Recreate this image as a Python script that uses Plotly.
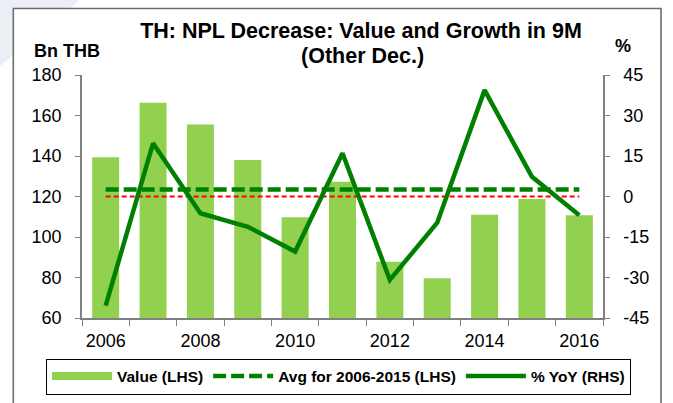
import plotly.graph_objects as go

# ---- data ----
years = [2006, 2007, 2008, 2009, 2010, 2011, 2012, 2013, 2014, 2015, 2016]
value_lhs = [139.4, 166.3, 155.6, 138.0, 109.7, 127.3, 87.8, 79.6, 111.0, 118.8, 110.7]
yoy_rhs = [-40.4, 19.7, -6.2, -11.2, -20.4, 16.0, -30.9, -9.7, 39.4, 7.3, -6.9]
avg_2006_2015 = 123.5
avg_line = [avg_2006_2015] * len(years)
zero_line = [0] * len(years)
year_ticks = [2006, 2008, 2010, 2012, 2014, 2016]
year_labels = [str(y) for y in year_ticks]
left_ticks = [60, 80, 100, 120, 140, 160, 180]
right_ticks = [-45, -30, -15, 0, 15, 30, 45]
right_labels = ["-45", "-30", "-15", "0", "15", "30", "45"]
title_line1 = "TH: NPL Decrease: Value and Growth in 9M"
title_line2 = "(Other Dec.)"

W, H = 673, 403
ML, MR, MT, MB = 82, 70, 75, 85
PW, PH = W - ML - MR, H - MT - MB

def px_x(px):
    return (px - ML) / PW

def px_y(py):
    return (H - MB - py) / PH

FONT = "Liberation Sans, Arial, sans-serif"
BAR_GREEN = "#92D050"
LINE_GREEN = "#008000"
AXIS_GREY = "#808080"

fig = go.Figure()

fig.add_trace(go.Bar(
    x=years, y=value_lhs, name="Value (LHS)", marker=dict(color=BAR_GREEN, line=dict(width=0)),
    width=0.57, yaxis="y", showlegend=False,
))
# legend swatch for the bars (flat bar shape like the original legend)
fig.add_trace(go.Scatter(
    x=[None], y=[None], mode="lines", name="Value (LHS)",
    line=dict(color=BAR_GREEN, width=8), yaxis="y",
))
fig.add_trace(go.Scatter(
    x=years, y=avg_line, mode="lines", name="Avg for 2006-2015 (LHS)",
    line=dict(color=LINE_GREEN, width=4.5, dash="13px,5px"), yaxis="y",
))
fig.add_trace(go.Scatter(
    x=years, y=zero_line, mode="lines", name="zero", showlegend=False,
    line=dict(color="#FF0000", width=2, dash="5px,3px"), yaxis="y2",
))
fig.add_trace(go.Scatter(
    x=years, y=yoy_rhs, mode="lines", name="% YoY (RHS)",
    line=dict(color=LINE_GREEN, width=4.5), yaxis="y2",
))

tickfont = dict(family=FONT, size=18, color="#000000")
title_font = dict(family=FONT, size=21.5, color="#000000", weight="bold")

fig.update_layout(
    width=W, height=H,
    margin=dict(l=ML, r=MR, t=MT, b=MB, autoexpand=False),
    paper_bgcolor="white", plot_bgcolor="white",
    font=dict(family=FONT, color="#000000"),
    title=dict(
        text=title_line1,
        x=361 / W, xanchor="center", xref="container",
        y=1 - 30 / H, yanchor="middle", yref="container",
        font=title_font,
    ),
    xaxis=dict(
        range=[2005.5, 2016.5], tickmode="array", tickvals=year_ticks, ticktext=year_labels,
        ticks="", showline=True, linecolor=AXIS_GREY, linewidth=1.5, showgrid=False,
        zeroline=False, tickfont=tickfont, ticklabelstandoff=6,
        minor=dict(tickmode="array", tickvals=[y - 0.5 for y in years] + [years[-1] + 0.5],
                   ticks="outside", ticklen=6, tickcolor=AXIS_GREY, tickwidth=1.2),
    ),
    yaxis=dict(
        range=[60, 180], tickmode="array", tickvals=left_ticks, ticks="outside", ticklen=5,
        tickcolor=AXIS_GREY, tickwidth=1.2, showline=True, linecolor=AXIS_GREY, linewidth=1.5,
        showgrid=False, zeroline=False, tickfont=tickfont, ticklabelstandoff=10,
    ),
    yaxis2=dict(
        range=[-45, 45], tickmode="array", tickvals=right_ticks, ticktext=right_labels,
        ticks="outside", ticklen=5,
        tickcolor=AXIS_GREY, tickwidth=1.2, showline=True, linecolor=AXIS_GREY, linewidth=1.5,
        showgrid=False, zeroline=False, tickfont=tickfont, overlaying="y", side="right",
        ticklabelstandoff=10,
    ),
    legend=dict(
        orientation="h", x=px_x(46), xanchor="left", y=px_y(358.5), yanchor="top",
        bordercolor="#000000", borderwidth=1, bgcolor="white", itemwidth=60,
        font=dict(family=FONT, size=15.5, color="#000000", weight="bold"),
        traceorder="normal",
    ),
    shapes=[
        dict(type="path", xref="paper", yref="paper", layer="below",
             path=f"M {px_x(0)},{px_y(0)} L {px_x(80)},{px_y(0)} L {px_x(0)},{px_y(66)} Z",
             fillcolor="#ECEEF6", line=dict(width=0)),
        dict(type="rect", xref="paper", yref="paper", layer="below",
             x0=px_x(13.3), x1=px_x(661), y0=px_y(420), y1=px_y(8.5),
             fillcolor="white", line=dict(color="#6E6E6E", width=1.6)),
    ],
    annotations=[
        dict(text=title_line2, xref="paper", yref="paper", x=px_x(362), y=px_y(55.5),
             xanchor="center", yanchor="middle", showarrow=False, font=title_font),
        dict(text="Bn THB", xref="paper", yref="paper", x=px_x(32), y=px_y(51),
             xanchor="left", yanchor="middle", showarrow=False,
             font=dict(family=FONT, size=18, color="#000000", weight="bold")),
        dict(text="%", xref="paper", yref="paper", x=px_x(622.5), y=px_y(46.5),
             xanchor="center", yanchor="middle", showarrow=False,
             font=dict(family=FONT, size=18, color="#000000", weight="bold")),
    ],
)

fig.write_html("out.html", config={"displayModeBar": False},
               post_script="document.body.style.margin='0';")
